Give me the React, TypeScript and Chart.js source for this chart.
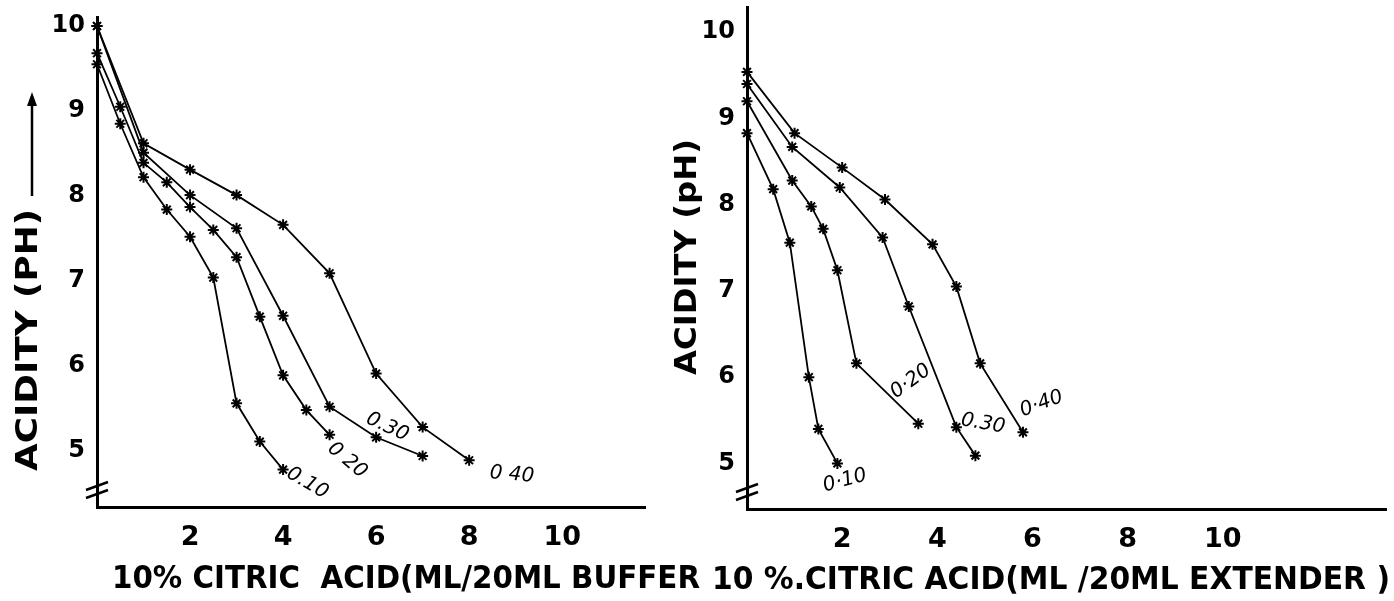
import React, { useEffect, useRef } from "react";
import { Chart, registerables } from "chart.js";

Chart.register(...registerables);

// ---------------- Left panel: 10% citric acid into buffer ----------------
const buffer010X = [0, 0.5, 1, 1.5, 2, 2.5, 3, 3.5, 4];
const buffer010PH = [9.55, 8.85, 8.22, 7.84, 7.52, 7.04, 5.56, 5.11, 4.78];
const buffer020X = [0, 0.5, 1, 1.5, 2, 2.5, 3, 3.5, 4, 4.5, 5];
const buffer020PH = [9.68, 9.05, 8.39, 8.16, 7.87, 7.6, 7.28, 6.58, 5.89, 5.48, 5.19];
const buffer030X = [0, 1, 2, 3, 4, 5, 6, 7];
const buffer030PH = [10.0, 8.51, 8.01, 7.62, 6.59, 5.52, 5.16, 4.94];
const buffer040X = [0, 1, 2, 3, 4, 5, 6, 7, 8];
const buffer040PH = [10.0, 8.62, 8.31, 8.01, 7.66, 7.09, 5.91, 5.28, 4.89];

// ---------------- Right panel: 10% citric acid into extender ----------------
const ext010X = [0, 0.55, 0.9, 1.3, 1.5, 1.9];
const ext010PH = [8.83, 8.18, 7.56, 6.0, 5.4, 5.0];
const ext020X = [0, 0.95, 1.35, 1.6, 1.9, 2.3, 3.6];
const ext020PH = [9.2, 8.28, 7.98, 7.72, 7.24, 6.16, 5.46];
const ext030X = [0, 0.95, 1.95, 2.85, 3.4, 4.4, 4.8];
const ext030PH = [9.4, 8.67, 8.2, 7.62, 6.82, 5.42, 5.09];
const ext040X = [0, 1.0, 2.0, 2.9, 3.9, 4.4, 4.9, 5.8];
const ext040PH = [9.54, 8.83, 8.43, 8.06, 7.54, 7.05, 6.16, 5.36];

// ---------------- Tick labels / texts ----------------
const xTickValues = [2, 4, 6, 8, 10];
const yTickValues = [5, 6, 7, 8, 9, 10];

const bufferSeriesLabels = ["0.10", "0 20", "0.30", "0 40"];
const extSeriesLabels = ["0·10", "0·20", "0.30", "0·40"];

const bufferXTitle = "10% CITRIC  ACID(ML/20ML BUFFER";
const bufferYTitle = "ACIDITY (PH)";
const extXTitle = "10 %.CITRIC ACID(ML /20ML EXTENDER )";
const extYTitle = "ACIDITY (pH)";

// label anchors (data units) and angles
const bufferLabelPlacement = [
  { x: 4.52, y: 4.62, angle: 30 },
  { x: 5.38, y: 4.89, angle: 40 },
  { x: 6.24, y: 5.28, angle: 25 },
  { x: 8.92, y: 4.72, angle: 5 },
];
const extLabelPlacement = [
  { x: 2.06, y: 4.8, angle: -15 },
  { x: 3.44, y: 5.95, angle: -36 },
  { x: 4.96, y: 5.46, angle: 10 },
  { x: 6.19, y: 5.69, angle: -20 },
];

const zip = (xs: number[], ys: number[]) => xs.map((x, i) => ({ x, y: ys[i] }));

function drawFitted(
  ctx: CanvasRenderingContext2D,
  text: string,
  cx: number,
  cy: number,
  length: number,
  font: string,
  rotation: number
) {
  ctx.save();
  ctx.font = font;
  const w = ctx.measureText(text).width;
  ctx.translate(cx, cy);
  ctx.rotate(rotation);
  ctx.scale(length / w, 1);
  ctx.textAlign = "center";
  ctx.textBaseline = "middle";
  ctx.fillStyle = "#000";
  ctx.fillText(text, 0, 0);
  ctx.restore();
}

type PanelCfg = {
  left: number;
  width: number;
  chartLeft: number;
  chartRight: number;
  chartTop: number;
  chartBottom: number;
  xMax: number;
  yMin: number;
  yMax: number;
  series: { x: number[]; y: number[] }[];
  labels: string[];
  labelPlacement: { x: number; y: number; angle: number }[];
  xTitle: string;
  xTitleBox: { cx: number; cy: number; len: number };
  yTitle: string;
  yTitleBox: { cx: number; cy: number; len: number };
  arrow: boolean;
};

const HEIGHT = 601;

const leftPanel: PanelCfg = {
  left: 0,
  width: 720,
  chartLeft: 97,
  chartRight: 645,
  chartTop: 17,
  chartBottom: 507,
  xMax: 11.78,
  yMin: 4.34,
  yMax: 10.106,
  series: [
    { x: buffer010X, y: buffer010PH },
    { x: buffer020X, y: buffer020PH },
    { x: buffer030X, y: buffer030PH },
    { x: buffer040X, y: buffer040PH },
  ],
  labels: bufferSeriesLabels,
  labelPlacement: bufferLabelPlacement,
  xTitle: bufferXTitle,
  xTitleBox: { cx: 406, cy: 580, len: 588 },
  yTitle: bufferYTitle,
  yTitleBox: { cx: 29, cy: 340, len: 262 },
  arrow: true,
};

const rightPanel: PanelCfg = {
  left: 655,
  width: 739,
  chartLeft: 92,
  chartRight: 737,
  chartTop: 3,
  chartBottom: 509,
  xMax: 13.44,
  yMin: 4.471,
  yMax: 10.287,
  series: [
    { x: ext010X, y: ext010PH },
    { x: ext020X, y: ext020PH },
    { x: ext030X, y: ext030PH },
    { x: ext040X, y: ext040PH },
  ],
  labels: extSeriesLabels,
  labelPlacement: extLabelPlacement,
  xTitle: extXTitle,
  xTitleBox: { cx: 396, cy: 581, len: 678 },
  yTitle: extYTitle,
  yTitleBox: { cx: 33, cy: 257, len: 236 },
  arrow: false,
};

function Panel({ cfg }: { cfg: PanelCfg }) {
  const ref = useRef<HTMLCanvasElement | null>(null);

  useEffect(() => {
    if (!ref.current) return;

    const decor = {
      id: "decor",
      afterDraw(chart: any) {
        const ctx: CanvasRenderingContext2D = chart.ctx;
        const xs = chart.scales.x;
        const ys = chart.scales.y;
        const area = chart.chartArea;
        ctx.save();
        ctx.fillStyle = "#000";
        ctx.strokeStyle = "#000";

        // series labels
        ctx.font = "italic 20px 'DejaVu Sans'";
        ctx.textAlign = "center";
        ctx.textBaseline = "middle";
        cfg.labels.forEach((t, i) => {
          const p = cfg.labelPlacement[i];
          ctx.save();
          ctx.translate(xs.getPixelForValue(p.x), ys.getPixelForValue(p.y));
          ctx.rotate((p.angle * Math.PI) / 180);
          ctx.fillText(t, 0, 0);
          ctx.restore();
        });

        // axis break marks
        ctx.lineWidth = 2.5;
        ctx.beginPath();
        [-21, -13].forEach((off) => {
          const yb = area.bottom + off;
          ctx.moveTo(area.left - 11, yb + 4);
          ctx.lineTo(area.left + 11, yb - 4);
        });
        ctx.stroke();

        // axis titles
        drawFitted(ctx, cfg.xTitle, cfg.xTitleBox.cx, cfg.xTitleBox.cy, cfg.xTitleBox.len, "bold 32px 'DejaVu Sans'", 0);
        drawFitted(ctx, cfg.yTitle, cfg.yTitleBox.cx, cfg.yTitleBox.cy, cfg.yTitleBox.len, "bold 31px 'DejaVu Sans'", -Math.PI / 2);

        if (cfg.arrow) {
          ctx.lineWidth = 2.5;
          ctx.beginPath();
          ctx.moveTo(32, 196);
          ctx.lineTo(32, 100);
          ctx.stroke();
          ctx.beginPath();
          ctx.moveTo(32, 92);
          ctx.lineTo(27, 106);
          ctx.lineTo(37, 106);
          ctx.closePath();
          ctx.fill();
        }
        ctx.restore();
      },
    };

    const chart = new Chart(ref.current, {
      type: "line",
      data: {
        datasets: cfg.series.map((s, i) => ({
          label: cfg.labels[i],
          data: zip(s.x, s.y),
          borderColor: "#000",
          backgroundColor: "#000",
          borderWidth: 1.8,
          pointStyle: "star",
          pointRadius: 5.5,
          pointBorderWidth: 2,
          pointBorderColor: "#000",
          tension: 0,
          fill: false,
          clip: false,
        })),
      },
      options: {
        responsive: false,
        animation: false,
        events: [],
        layout: {
          padding: {
            left: 0,
            right: cfg.width - cfg.chartRight,
            top: cfg.chartTop,
            bottom: 0,
          },
        },
        plugins: {
          legend: { display: false },
          tooltip: { enabled: false },
          title: { display: false },
        },
        scales: {
          x: {
            type: "linear",
            min: 0,
            max: cfg.xMax,
            grid: { display: false, drawTicks: false },
            border: { display: true, color: "#000", width: 3 },
            ticks: {
              color: "#000",
              font: { family: "'DejaVu Sans'", size: 27, weight: "bold" },
              padding: 15,
              maxRotation: 0,
            },
            afterBuildTicks: (s: any) => {
              s.ticks = xTickValues.map((v) => ({ value: v }));
            },
            afterFit: (s: any) => {
              s.height = HEIGHT - cfg.chartBottom;
              s.paddingLeft = 0;
              s.paddingRight = 0;
              s.paddingTop = 0;
              s.paddingBottom = 0;
            },
          },
          y: {
            type: "linear",
            min: cfg.yMin,
            max: cfg.yMax,
            grid: { display: false, drawTicks: false },
            border: { display: true, color: "#000", width: 3 },
            ticks: {
              color: "#000",
              font: { family: "'DejaVu Sans'", size: 24, weight: "bold" },
              padding: 12,
            },
            afterBuildTicks: (s: any) => {
              s.ticks = yTickValues.map((v) => ({ value: v }));
            },
            afterFit: (s: any) => {
              s.width = cfg.chartLeft;
              s.paddingLeft = 0;
              s.paddingRight = 0;
              s.paddingTop = 0;
              s.paddingBottom = 0;
            },
          },
        },
      } as any,
      plugins: [decor],
    });

    return () => chart.destroy();
  }, [cfg]);

  return (
    <canvas
      ref={ref}
      width={cfg.width}
      height={HEIGHT}
      style={{ position: "absolute", left: cfg.left, top: 0, width: cfg.width, height: HEIGHT, display: "block" }}
    />
  );
}

export default function App() {
  return (
    <div style={{ position: "fixed", left: 0, top: 0, width: 1394, height: HEIGHT, background: "#fff", overflow: "hidden" }}>
      <Panel cfg={leftPanel} />
      <Panel cfg={rightPanel} />
    </div>
  );
}
